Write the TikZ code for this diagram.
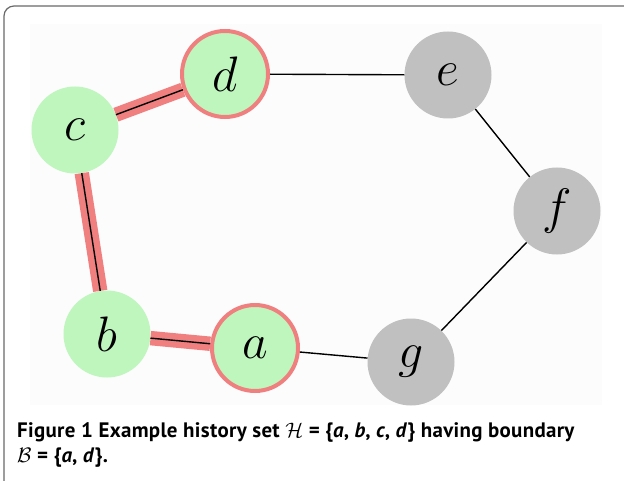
\RequirePackage{fix-cm}
\documentclass[tikz,border=0pt]{standalone}
\usepackage{fontspec}
\newfontfamily\capfont{PT Sans}[LetterSpace=1.5]
\usetikzlibrary{positioning}
\definecolor{nodegreen}{RGB}{190,246,190}
\definecolor{nodegray}{RGB}{192,192,192}
\definecolor{edgered}{RGB}{240,128,128}
\definecolor{framegray}{RGB}{105,105,105}
\definecolor{panelgray}{RGB}{252,252,252}

\begin{document}
\begin{tikzpicture}[x=1bp, y=-1bp,
    vertex/.style={circle, minimum size=87bp, inner sep=0pt, font=\fontsize{50}{50}\selectfont},
    history/.style={vertex, fill=nodegreen},
    boundary/.style={history, draw=edgered, line width=4bp, minimum size=86bp},
    other/.style={vertex, fill=nodegray},
    edge/.style={line width=1.4bp},
    hedge/.style={draw=edgered, line width=6.5bp, double=black, double distance=1.4bp},
    captext/.style={anchor=base west, inner sep=0pt, font=\capfont\bfseries\fontsize{21}{24}\selectfont}]
    \useasboundingbox (0,0) rectangle (624,481);

    % frame and panel
    \draw[framegray, line width=1.2bp, rounded corners=10bp] (4,6) rectangle (660,520);
    \fill[panelgray] (30,24) rectangle (602,405);

    % history set
    \node[history] (c) at (75,130) {$c$};
    \node[boundary] (d) at (225,74) {$d$};
    \node[history] (b) at (107,334) {$b$};
    \node[boundary] (a) at (255,348) {$a$};

    % remaining vertices
    \node[other] (e) at (448,75) {$e$};
    \node[other] (f) at (557,211) {$f$};
    \node[other] (g) at (411,362) {$g$};

    % edges
    \draw[hedge] (c) -- (d);
    \draw[hedge] (c) -- (b);
    \draw[hedge] (b) -- (a);
    \draw[edge] (d) -- (e);
    \draw[edge] (e) -- (f);
    \draw[edge] (f) -- (g);
    \draw[edge] (g) -- (a);

    % caption
    \node[captext] (caption) at (17,437)
      {Figure 1 Example history set $\mathcal{H}$ = \{\textit{a}, \textit{b}, \textit{c}, \textit{d}\} having boundary};
    \node[captext] (captionb) at (17,462)
      {$\mathcal{B}$ = \{\textit{a}, \textit{d}\}.};
\end{tikzpicture}
\end{document}
